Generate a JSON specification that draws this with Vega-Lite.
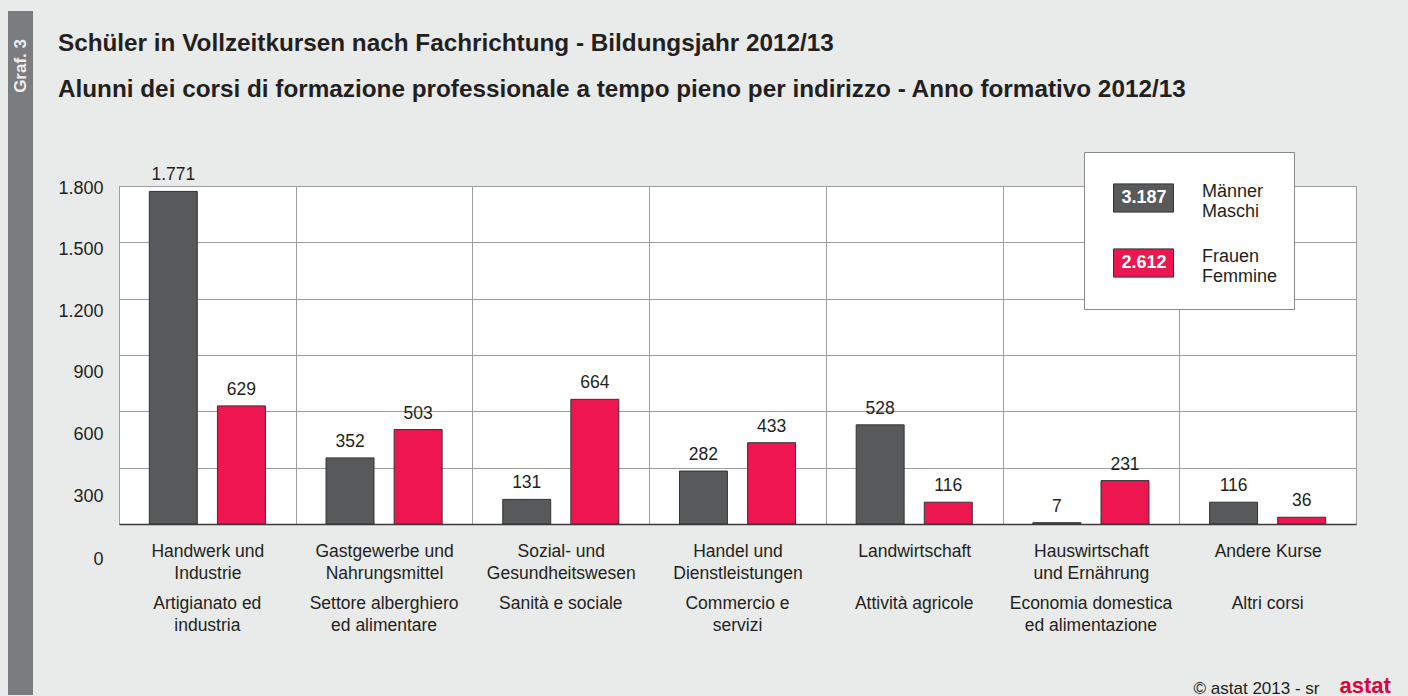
{
  "$schema": "https://vega.github.io/schema/vega-lite/v6.json",
  "background": "#e9eaea",
  "autosize": {"type": "fit", "contains": "padding"},
  "width": 1408,
  "height": 696,
  "padding": {"left": 57, "top": 38, "right": 52, "bottom": 0},
  "config": {
    "font": "Liberation Sans",
    "locale": {"number": {"decimal": ",", "thousands": ".", "grouping": [3], "currency": ["", " €"]}}
  },
  "view": {"fill": "white", "stroke": "#9d9d9d"},
  "title": {
    "text": "Schüler in Vollzeitkursen nach Fachrichtung - Bildungsjahr 2012/13",
    "subtitle": "Alunni dei corsi di formazione professionale a tempo pieno per indirizzo - Anno formativo 2012/13",
    "anchor": "start", "frame": "bounds",
    "fontSize": 24.3, "fontWeight": "bold", "color": "#231f20",
    "subtitleFontSize": 24.3, "subtitleFontWeight": "bold", "subtitleColor": "#231f20", "subtitleFont": "Liberation Sans",
    "subtitlePadding": 21, "offset": 64.5
  },
  "data": {"values": [
    {"cat": "Handwerk und|Industrie#Artigianato ed|industria", "sex": "M", "total": "3.187", "value": 1771},
    {"cat": "Handwerk und|Industrie#Artigianato ed|industria", "sex": "F", "total": "2.612", "value": 629},
    {"cat": "Gastgewerbe und|Nahrungsmittel#Settore alberghiero|ed alimentare", "sex": "M", "total": "3.187", "value": 352},
    {"cat": "Gastgewerbe und|Nahrungsmittel#Settore alberghiero|ed alimentare", "sex": "F", "total": "2.612", "value": 503},
    {"cat": "Sozial- und|Gesundheitswesen#Sanità e sociale", "sex": "M", "total": "3.187", "value": 131},
    {"cat": "Sozial- und|Gesundheitswesen#Sanità e sociale", "sex": "F", "total": "2.612", "value": 664},
    {"cat": "Handel und|Dienstleistungen#Commercio e|servizi", "sex": "M", "total": "3.187", "value": 282},
    {"cat": "Handel und|Dienstleistungen#Commercio e|servizi", "sex": "F", "total": "2.612", "value": 433},
    {"cat": "Landwirtschaft#Attività agricole", "sex": "M", "total": "3.187", "value": 528},
    {"cat": "Landwirtschaft#Attività agricole", "sex": "F", "total": "2.612", "value": 116},
    {"cat": "Hauswirtschaft|und Ernährung#Economia domestica|ed alimentazione", "sex": "M", "total": "3.187", "value": 7},
    {"cat": "Hauswirtschaft|und Ernährung#Economia domestica|ed alimentazione", "sex": "F", "total": "2.612", "value": 231},
    {"cat": "Andere Kurse#Altri corsi", "sex": "M", "total": "3.187", "value": 116},
    {"cat": "Andere Kurse#Altri corsi", "sex": "F", "total": "2.612", "value": 36}
  ]},
  "layer": [
    {
      "mark": {"type": "bar", "stroke": "#333333"},
      "encoding": {
        "x": {
          "field": "cat", "type": "nominal", "sort": null,
          "scale": {"paddingInner": 0, "paddingOuter": 0},
          "axis": {
            "orient": "bottom", "labelAngle": 0,
            "labelExpr": "split(split(datum.label, '#')[0], '|')",
            "labelFontSize": 17.5, "labelColor": "#231f20", "labelPadding": 18, "labelLineHeight": 22,
            "labelLimit": 300, "labelBaseline": "top",
            "ticks": false, "domain": true, "domainColor": "#3a3a3a", "domainWidth": 1.5,
            "grid": true, "gridColor": "#9d9d9d", "tickBand": "extent",
            "title": "astat", "titleColor": "#e4003a", "titleFontSize": 22, "titleFontWeight": "bold",
            "titleX": 1220, "titleY": 173, "titleAlign": "left", "titleBaseline": "bottom"
          }
        },
        "xOffset": {
          "field": "sex", "type": "nominal", "sort": ["M", "F"],
          "scale": {"domain": ["M", "F"], "paddingInner": 0.296, "paddingOuter": 0.445}
        },
        "y": {
          "field": "value", "type": "quantitative",
          "scale": {"domain": [0, 1800], "nice": false},
          "axis": {
            "values": [0, 300, 600, 900, 1200, 1500, 1800], "format": ",d", "title": null,
            "domain": false, "ticks": false, "labelFontSize": 18, "labelColor": "#231f20",
            "labelPadding": 16, "gridColor": "#9d9d9d",
            "labelOffset": {
              "condition": [
                {"test": "datum.value == 0", "value": 35},
                {"test": "datum.value == 300", "value": 29},
                {"test": "datum.value == 600", "value": 23.5},
                {"test": "datum.value == 900", "value": 17.5},
                {"test": "datum.value == 1200", "value": 13},
                {"test": "datum.value == 1500", "value": 7.5}
              ],
              "value": 2
            }
          }
        },
        "color": {
          "field": "sex", "type": "nominal",
          "scale": {"domain": ["M", "F"], "range": ["#58595b", "#ed1651"]},
          "legend": {
            "title": null, "orient": "none", "legendX": 965, "legendY": -34, "direction": "vertical",
            "padding": 16, "fillColor": "white", "strokeColor": "#8a8a8a",
            "symbolType": "M-1,-0.47H1V0.47H-1Z", "symbolSize": 3600,
            "symbolStrokeColor": "#333333", "symbolStrokeWidth": 1, "symbolOffset": 13,
            "rowPadding": 5, "clipHeight": 60, "labelOffset": 28, "labelFontSize": 18, "labelColor": "#231f20",
            "labelLimit": 200,
            "labelExpr": "datum.label == 'M' ? ['Männer', 'Maschi'] : ['Frauen', 'Femmine']",
            "encode": {"labels": {"update": {"dy": {"value": -6}}}}
          }
        },
        "opacity": {
          "field": "total", "type": "ordinal",
          "scale": {"domain": ["3.187", "2.612"], "range": [1, 1]},
          "legend": {
            "title": null, "orient": "none", "legendX": 965, "legendY": -34, "direction": "vertical",
            "padding": 16, "symbolType": "M0,0", "symbolSize": 3600,
            "symbolStrokeWidth": 1, "symbolOffset": 13, "rowPadding": 5, "clipHeight": 60,
            "labelAlign": "center", "labelOffset": -30, "labelFontSize": 18, "labelFontWeight": "bold",
            "labelColor": "white"
          }
        }
      }
    },
    {
      "mark": {"type": "text", "baseline": "bottom", "dy": -7, "fontSize": 17.5, "color": "#231f20", "strokeWidth": 0},
      "encoding": {
        "x": {
          "field": "cat", "type": "nominal", "sort": null,
          "axis": {
            "orient": "bottom", "labelAngle": 0,
            "labelExpr": "split(split(datum.label, '#')[1], '|')",
            "labelFontSize": 17.5, "labelColor": "#231f20", "labelPadding": 70, "labelLineHeight": 22,
            "labelLimit": 300, "labelBaseline": "top",
            "ticks": false, "domain": false, "grid": false,
            "title": "© astat 2013 - sr", "titleColor": "#231f20", "titleFontSize": 17, "titleFontWeight": "normal",
            "titleX": 1200, "titleY": 173, "titleAlign": "right", "titleBaseline": "bottom"
          }
        },
        "xOffset": {"field": "sex", "type": "nominal", "sort": ["M", "F"]},
        "y": {"field": "value", "type": "quantitative"},
        "text": {"field": "value", "type": "quantitative", "format": ",d"},
        "stroke": {
          "field": "value", "type": "quantitative",
          "scale": {"domain": [0, 1800], "range": ["#7b7c80", "#7b7c80"]},
          "legend": {
            "title": null, "orient": "none", "legendX": -111, "legendY": -175, "direction": "vertical",
            "padding": 0, "gradientLength": 684, "gradientThickness": 25, "gradientStrokeWidth": 0,
            "values": [1800], "labelExpr": "'Graf. 3'", "labelOffset": -12.5,
            "labelFontSize": 17, "labelFontWeight": "bold", "labelColor": "#eeeeee", "labelLimit": 200,
            "encode": {"labels": {"update": {"angle": {"value": 270}, "align": {"value": "right"}, "baseline": {"value": "middle"}, "dx": {"value": -28}}}}
          }
        }
      }
    }
  ],
  "resolve": {"axis": {"x": "independent"}}
}
